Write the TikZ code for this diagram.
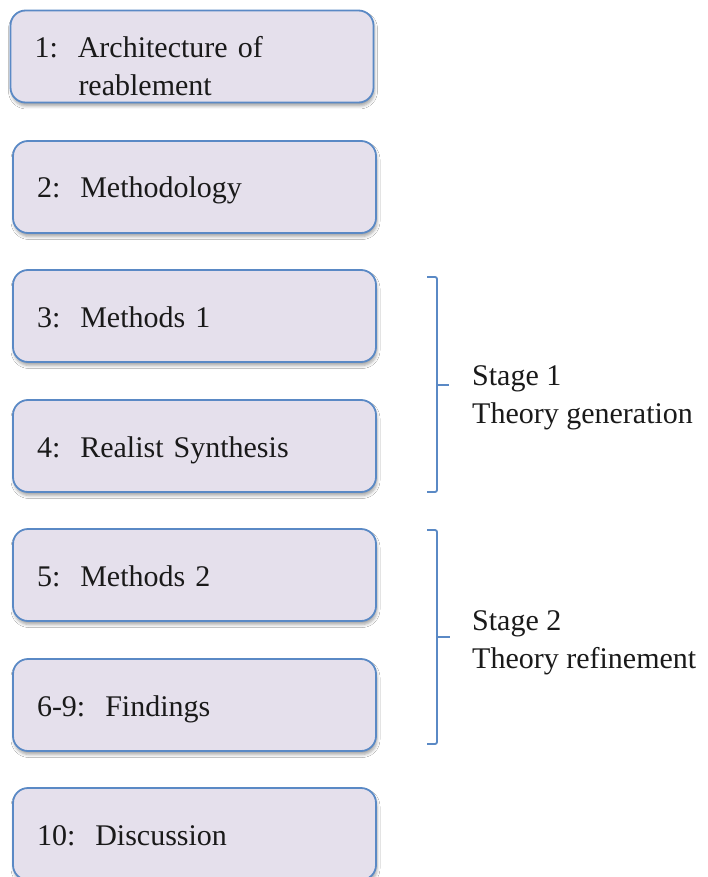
\documentclass[tikz,border=0pt]{standalone}
\usepackage{fontspec}
\setmainfont{Liberation Serif}
\usetikzlibrary{shadows.blur}
\definecolor{boxfill}{HTML}{E5E0EC}
\definecolor{boxline}{HTML}{5A89C5}
\definecolor{ink}{HTML}{1A1A1A}
\tikzset{
  chapter/.style={draw=boxline, line width=1.8pt, fill=boxfill, rounded corners=15pt,
    minimum width=363pt, minimum height=92pt, text width=315pt, inner xsep=24pt,
    align=left, text=ink, font=\fontsize{30}{38}\selectfont,
    text height=24pt, text depth=2pt,
    blur shadow={shadow xshift=1pt, shadow yshift=-3.5pt, shadow blur radius=3pt, shadow opacity=35}},
  brace/.style={draw=boxline, line width=1.8pt, rounded corners=2pt},
  stagelabel/.style={anchor=base west, align=left, text=ink, inner sep=0pt,
    font=\fontsize{30}{38}\selectfont}
}
\begin{document}
\begin{tikzpicture}[x=1pt, y=-1pt]
\useasboundingbox (0,0) rectangle (708,877);
\fill[white] (0,0) rectangle (708,877);

% chapter boxes
\node[chapter, text height=, text depth=] (c1) at (192,56.5)
  {\rule{0pt}{41pt}1:\ \ Architecture of\\\hspace*{44pt}reablement};
\node[chapter] (c2) at (194.5,187) {2:\ \ Methodology};
\node[chapter] (c3) at (194.5,316) {3:\ \ Methods 1};
\node[chapter] (c4) at (194.5,446) {4:\ \ Realist Synthesis};
\node[chapter] (c5) at (194.5,575) {5:\ \ Methods 2};
\node[chapter] (c6) at (194.5,705) {6-9:\ \ Findings};
\node[chapter] (c7) at (194.5,834) {10:\ \ Discussion};

% stage brackets: top end, middle point, tip, bottom end
\coordinate (b1t) at (427,277);
\coordinate (b1m) at (437,385);
\coordinate (b1tip) at (449,385);
\coordinate (b1b) at (427,492);
\coordinate (b2t) at (427,530);
\coordinate (b2m) at (437,637);
\coordinate (b2tip) at (450,637);
\coordinate (b2b) at (427,744);
\path[brace] (b1t) -| (b1m) |- (b1b);
\path[brace] (b1m) -- (b1tip);
\path[brace] (b2t) -| (b2m) |- (b2b);
\path[brace] (b2m) -- (b2tip);

% stage labels
\node[stagelabel] (s1) at (472,423) {Stage 1\\Theory generation};
\node[stagelabel] (s2) at (472,668) {Stage 2\\Theory refinement};
\end{tikzpicture}
\end{document}
